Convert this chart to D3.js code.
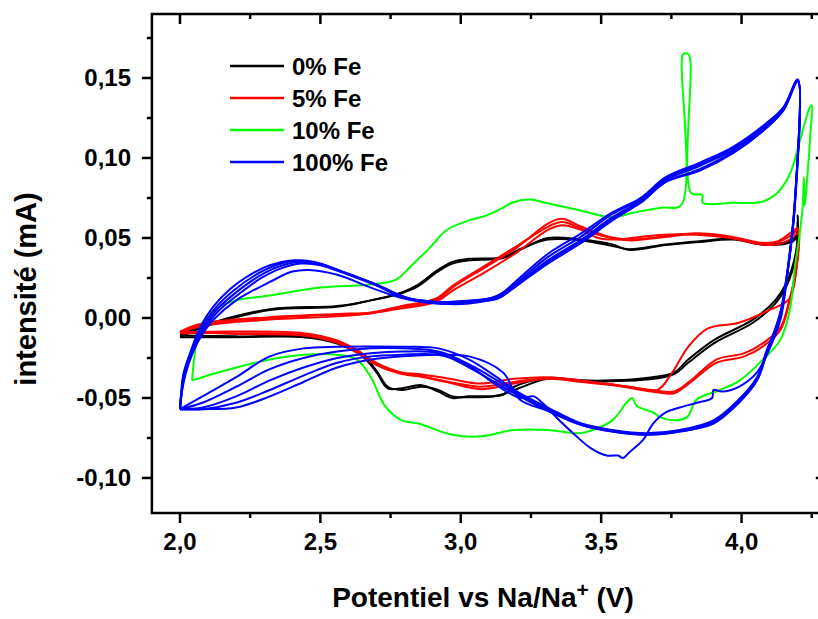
<!DOCTYPE html>
<html><head><meta charset="utf-8">
<script src="https://cdn.jsdelivr.net/npm/d3@7"></script>
<style>
html,body{margin:0;padding:0;background:#fff;}
svg text{font-family:"Liberation Sans",Arial,sans-serif;font-weight:bold;fill:#000;}
</style></head>
<body><svg id="c" width="818" height="619"></svg>
<script>
// ---- tick values / labels ----
const xTicks = [2.0, 2.5, 3.0, 3.5, 4.0];
const xTickLabels = ["2,0", "2,5", "3,0", "3,5", "4,0"];
const xMinor = [2.25, 2.75, 3.25, 3.75, 4.25];
const yTicks = [-0.10, -0.05, 0.00, 0.05, 0.10, 0.15];
const yTickLabels = ["-0,10", "-0,05", "0,00", "0,05", "0,10", "0,15"];
const yMinor = [-0.075, -0.025, 0.025, 0.075, 0.125, 0.175];
const legendLabels = ["0% Fe", "5% Fe", "10% Fe", "100% Fe"];
const seriesColors = ["#000000", "#ff0000", "#00ff00", "#0000ff"];

// ---- 0% Fe (black) cycles : [V, mA] ----
const fe0_c1 = [[2.0,-0.012],[2.08,-0.006],[2.32,0.005],[2.56,0.007],[2.68,0.011],[2.79,0.0155],[2.85,0.02],[2.91,0.028],[2.97,0.034],[3.03,0.036],[3.15,0.0375],[3.21,0.0425],[3.31,0.05],[3.43,0.049],[3.54,0.046],[3.6,0.0425],[3.73,0.0456],[3.85,0.0475],[3.97,0.049],[4.09,0.0456],[4.19,0.049],[4.2,0.064],
  [4.195,0.0425],[4.16,0.022],[4.12,0.011],[4.04,-0.001],[3.9,-0.014],[3.81,-0.026],[3.76,-0.034],[3.66,-0.0375],[3.54,-0.039],[3.43,-0.039],[3.31,-0.0375],[3.19,-0.043],[3.15,-0.048],[3.03,-0.049],[2.97,-0.05],[2.92,-0.046],[2.86,-0.042],[2.79,-0.044],[2.74,-0.044],[2.7,-0.034],[2.65,-0.024],[2.56,-0.016],[2.44,-0.012],[2.2,-0.012],[2.0,-0.012]];
const fe0_c2 = [[2.0,-0.011],[2.08,-0.005],[2.32,0.0055],[2.56,0.0075],[2.68,0.011],[2.79,0.016],[2.85,0.021],[2.91,0.029],[2.97,0.035],[3.03,0.037],[3.15,0.038],[3.21,0.043],[3.31,0.049],[3.43,0.0485],[3.54,0.045],[3.6,0.043],[3.73,0.046],[3.85,0.048],[3.97,0.0495],[4.09,0.046],[4.19,0.05],[4.2,0.06],
  [4.195,0.04],[4.16,0.02],[4.12,0.009],[4.04,-0.003],[3.9,-0.016],[3.81,-0.028],[3.76,-0.035],[3.66,-0.0385],[3.54,-0.0395],[3.43,-0.0395],[3.31,-0.038],[3.19,-0.045],[3.12,-0.049],[3.03,-0.0495],[2.97,-0.049],[2.92,-0.045],[2.86,-0.043],[2.79,-0.045],[2.74,-0.043],[2.7,-0.033],[2.65,-0.023],[2.56,-0.015],[2.44,-0.0115],[2.2,-0.0115],[2.0,-0.011]];

// ---- 5% Fe (red) cycles ----
const fe5_c1 = [[2.0,-0.009],[2.08,-0.004],[2.32,0.0],[2.56,0.002],[2.68,0.003],[2.79,0.007],[2.91,0.011],[2.97,0.019],[3.09,0.032],[3.2,0.044],[3.31,0.059],[3.36,0.062],[3.43,0.057],[3.49,0.053],[3.55,0.05],[3.61,0.049],[3.72,0.051],[3.84,0.053],[3.96,0.051],[4.07,0.047],[4.13,0.048],[4.18,0.054],[4.2,0.056],
  [4.195,0.03],[4.17,0.012],[4.1,0.005],[3.99,-0.003],[3.88,-0.0065],[3.81,-0.018],[3.75,-0.035],[3.7,-0.045],[3.6,-0.043],[3.43,-0.039],[3.31,-0.037],[3.19,-0.038],[3.07,-0.041],[2.96,-0.038],[2.85,-0.035],[2.79,-0.034],[2.7,-0.028],[2.63,-0.02],[2.56,-0.014],[2.44,-0.0095],[2.2,-0.0085],[2.0,-0.009]];
const fe5_c2 = [[2.0,-0.0095],[2.08,-0.005],[2.32,-0.001],[2.56,0.001],[2.68,0.003],[2.79,0.006],[2.91,0.010],[2.97,0.017],[3.09,0.029],[3.2,0.041],[3.31,0.055],[3.36,0.058],[3.43,0.055],[3.49,0.05],[3.55,0.049],[3.61,0.050],[3.72,0.052],[3.84,0.052],[3.96,0.050],[4.07,0.046],[4.13,0.046],[4.18,0.050],[4.2,0.053],
  [4.195,0.032],[4.17,0.011],[4.14,-0.0055],[4.09,-0.014],[4.01,-0.022],[3.91,-0.026],[3.82,-0.039],[3.76,-0.046],[3.68,-0.045],[3.56,-0.042],[3.43,-0.0395],[3.31,-0.0375],[3.19,-0.04],[3.07,-0.043],[2.96,-0.04],[2.85,-0.036],[2.79,-0.0345],[2.7,-0.029],[2.63,-0.021],[2.56,-0.015],[2.44,-0.0105],[2.2,-0.0095],[2.0,-0.0095]];
const fe5_c3 = [[2.0,-0.0085],[2.08,-0.0035],[2.32,0.0005],[2.56,0.0025],[2.68,0.0035],[2.79,0.0075],[2.91,0.012],[2.97,0.02],[3.09,0.033],[3.2,0.045],[3.31,0.057],[3.36,0.060],[3.43,0.056],[3.49,0.052],[3.55,0.0495],[3.61,0.0485],[3.72,0.0505],[3.84,0.0525],[3.96,0.0505],[4.07,0.0465],[4.13,0.0475],[4.18,0.052],[4.2,0.055],
  [4.195,0.031],[4.17,0.010],[4.14,-0.007],[4.09,-0.016],[4.01,-0.024],[3.91,-0.028],[3.82,-0.040],[3.76,-0.047],[3.68,-0.046],[3.56,-0.0425],[3.43,-0.040],[3.31,-0.038],[3.19,-0.041],[3.07,-0.0445],[2.96,-0.0405],[2.85,-0.0365],[2.79,-0.035],[2.7,-0.0295],[2.63,-0.0215],[2.56,-0.0155],[2.44,-0.011],[2.2,-0.010],[2.0,-0.0085]];

// ---- 10% Fe (green) cycle ----
const fe10_c1 = [[2.043,-0.039],[2.06,-0.014],[2.08,-0.003],[2.14,0.007],[2.2,0.011],[2.32,0.014],[2.5,0.019],[2.68,0.021],[2.77,0.024],[2.82,0.032],[2.89,0.044],[2.95,0.055],[3.03,0.061],[3.09,0.064],[3.15,0.069],[3.19,0.0725],[3.25,0.074],[3.3,0.072],[3.42,0.0675],[3.54,0.063],[3.62,0.066],[3.72,0.069],[3.785,0.0705],
  [3.787,0.16],[3.792,0.165],[3.81,0.165],[3.818,0.16],[3.821,0.078],[3.86,0.077],[3.862,0.072],[3.97,0.072],[4.07,0.0725],[4.126,0.078],[4.172,0.09],[4.208,0.111],[4.244,0.132],[4.25,0.133],
  [4.245,0.115],[4.235,0.09],[4.225,0.07],[4.222,0.088],[4.218,0.07],[4.205,0.05],[4.19,0.032],[4.172,0.005],[4.137,-0.014],[4.076,-0.026],[3.994,-0.039],[3.923,-0.045],[3.84,-0.051],[3.806,-0.062],[3.756,-0.064],[3.71,-0.062],[3.685,-0.059],[3.627,-0.055],[3.61,-0.05],[3.59,-0.053],[3.54,-0.064],[3.47,-0.07],[3.425,-0.072],[3.31,-0.07],[3.19,-0.07],[3.07,-0.074],[2.97,-0.073],[2.85,-0.066],[2.79,-0.064],[2.73,-0.055],[2.68,-0.037],[2.63,-0.026],[2.56,-0.023],[2.44,-0.023],[2.32,-0.026],[2.2,-0.031],[2.08,-0.037],[2.043,-0.039]];

// ---- 100% Fe (blue) cycles ----
const fe100_c1 = [[2.0,-0.057],[2.005,-0.045],[2.012,-0.035],[2.036,-0.022],[2.071,-0.006],[2.118,0.007],[2.178,0.018],[2.26,0.028],[2.32,0.033],[2.40,0.036],[2.46,0.035],[2.56,0.030],[2.68,0.022],[2.79,0.013],[2.92,0.009],[3.03,0.009],[3.13,0.013],[3.19,0.022],[3.31,0.040],[3.43,0.053],[3.54,0.066],[3.64,0.075],[3.73,0.088],[3.85,0.097],[3.97,0.107],[4.09,0.122],[4.15,0.132],[4.2,0.149],
  [4.19,0.074],[4.165,0.032],[4.14,0.005],[4.115,-0.009],[4.09,-0.020],[4.055,-0.037],[3.99,-0.051],[3.9,-0.064],[3.78,-0.070],[3.66,-0.072],[3.54,-0.070],[3.43,-0.066],[3.31,-0.056],[3.21,-0.047],[3.12,-0.036],[3.03,-0.026],[2.92,-0.019],[2.79,-0.018],[2.56,-0.018],[2.44,-0.019],[2.32,-0.024],[2.2,-0.037],[2.08,-0.049],[2.0,-0.057]];
const fe100_c2 = [[2.0,-0.057],[2.006,-0.045],[2.014,-0.035],[2.038,-0.022],[2.075,-0.007],[2.125,0.006],[2.19,0.017],[2.27,0.027],[2.34,0.033],[2.42,0.036],[2.48,0.035],[2.58,0.029],[2.70,0.021],[2.80,0.013],[2.92,0.010],[3.03,0.010],[3.13,0.014],[3.19,0.021],[3.31,0.038],[3.43,0.051],[3.54,0.065],[3.64,0.074],[3.73,0.087],[3.85,0.096],[3.97,0.106],[4.09,0.121],[4.15,0.131],[4.2,0.149],
  [4.19,0.073],[4.165,0.031],[4.14,0.004],[4.115,-0.010],[4.09,-0.021],[4.055,-0.038],[3.99,-0.052],[3.9,-0.065],[3.78,-0.0705],[3.66,-0.0725],[3.54,-0.0705],[3.43,-0.0665],[3.31,-0.057],[3.21,-0.048],[3.12,-0.038],[3.03,-0.029],[2.92,-0.021],[2.79,-0.019],[2.68,-0.019],[2.56,-0.021],[2.44,-0.025],[2.32,-0.032],[2.2,-0.043],[2.08,-0.053],[2.0,-0.057]];
const fe100_c3 = [[2.0,-0.057],[2.007,-0.045],[2.016,-0.035],[2.04,-0.022],[2.078,-0.008],[2.13,0.005],[2.2,0.016],[2.28,0.026],[2.35,0.032],[2.42,0.035],[2.49,0.034],[2.59,0.028],[2.71,0.020],[2.81,0.0125],[2.92,0.0095],[3.03,0.0105],[3.13,0.0135],[3.19,0.020],[3.31,0.036],[3.43,0.049],[3.54,0.063],[3.64,0.073],[3.73,0.086],[3.85,0.095],[3.97,0.105],[4.09,0.120],[4.15,0.131],[4.2,0.1485],
  [4.19,0.072],[4.165,0.030],[4.14,0.003],[4.115,-0.011],[4.09,-0.022],[4.055,-0.039],[3.99,-0.053],[3.9,-0.0655],[3.78,-0.071],[3.66,-0.073],[3.54,-0.071],[3.43,-0.067],[3.31,-0.058],[3.21,-0.049],[3.12,-0.040],[3.03,-0.031],[2.92,-0.022],[2.79,-0.021],[2.68,-0.022],[2.56,-0.025],[2.44,-0.031],[2.32,-0.039],[2.2,-0.049],[2.08,-0.056],[2.0,-0.057]];
const fe100_c4 = [[2.0,-0.057],[2.007,-0.045],[2.018,-0.035],[2.042,-0.022],[2.08,-0.009],[2.135,0.004],[2.21,0.015],[2.29,0.025],[2.36,0.031],[2.43,0.034],[2.50,0.033],[2.60,0.027],[2.72,0.019],[2.82,0.012],[2.92,0.010],[3.03,0.011],[3.13,0.013],[3.19,0.019],[3.31,0.035],[3.43,0.048],[3.54,0.062],[3.64,0.072],[3.73,0.085],[3.85,0.092],[3.97,0.103],[4.09,0.119],[4.15,0.130],[4.2,0.148],
  [4.19,0.07],[4.165,0.03],[4.14,0.0],[4.11,-0.015],[4.055,-0.034],[3.99,-0.043],[3.93,-0.046],[3.9,-0.045],[3.895,-0.05],[3.84,-0.053],[3.78,-0.056],[3.73,-0.059],[3.685,-0.066],[3.65,-0.076],[3.6,-0.084],[3.578,-0.0875],[3.56,-0.086],[3.52,-0.086],[3.46,-0.081],[3.4,-0.072],[3.34,-0.062],[3.29,-0.053],[3.26,-0.049],[3.21,-0.050],[3.12,-0.041],[3.03,-0.030],[2.92,-0.023],[2.79,-0.023],[2.68,-0.024],[2.56,-0.028],[2.44,-0.036],[2.32,-0.045],[2.2,-0.053],[2.08,-0.057],[2.0,-0.057]];
const fe100_c5 = [[2.0,-0.057],[2.008,-0.045],[2.02,-0.035],[2.045,-0.022],[2.08,-0.010],[2.12,-0.001],[2.2,0.011],[2.32,0.0225],[2.40,0.029],[2.46,0.030],[2.56,0.027],[2.68,0.019],[2.79,0.0125],[2.92,0.009],[3.03,0.010],[3.13,0.012],[3.19,0.019],[3.31,0.034],[3.43,0.047],[3.54,0.061],[3.64,0.072],[3.73,0.085],[3.85,0.093],[3.97,0.104],[4.09,0.119],[4.15,0.130],[4.2,0.148],
  [4.19,0.072],[4.165,0.030],[4.14,0.003],[4.115,-0.011],[4.09,-0.022],[4.055,-0.039],[3.99,-0.053],[3.9,-0.066],[3.78,-0.071],[3.66,-0.073],[3.54,-0.071],[3.43,-0.067],[3.31,-0.058],[3.21,-0.051],[3.15,-0.034],[3.03,-0.024],[2.92,-0.023],[2.79,-0.024],[2.68,-0.026],[2.56,-0.031],[2.44,-0.040],[2.32,-0.049],[2.2,-0.056],[2.08,-0.057],[2.0,-0.057]];

const seriesCycles = [
  [fe0_c1, fe0_c2],
  [fe5_c1, fe5_c2, fe5_c3],
  [fe10_c1],
  [fe100_c1, fe100_c2, fe100_c3, fe100_c4, fe100_c5]
];

// ---- drawing ----
const svg = d3.select("#c");
const x = d3.scaleLinear().domain([1.9, 4.3]).range([151.9, 825.8]);
const y = d3.scaleLinear().domain([-0.1219, 0.19]).range([513, 14]);
const X0 = x.range()[0], X1 = x.range()[1], Y0 = y.range()[0], Y1 = y.range()[1];

const line = d3.line().x(d => x(d[0])).y(d => y(d[1])).curve(d3.curveCatmullRom.alpha(0.5));
const plot = svg.append("g");
seriesCycles.forEach((cycles, si) => {
  cycles.forEach(c => {
    plot.append("path").attr("d", line(c)).attr("fill", "none")
      .attr("stroke", seriesColors[si]).attr("stroke-width", 2)
      .attr("stroke-linejoin", "round");
  });
});

// frame
svg.append("rect").attr("x", X0).attr("y", Y1).attr("width", X1 - X0).attr("height", Y0 - Y1)
  .attr("fill", "none").attr("stroke", "#000").attr("stroke-width", 2.5);

const tickG = svg.append("g").attr("stroke", "#000").attr("stroke-width", 2.5);
const MAJ = 10, MIN = 5;
xTicks.forEach(v => {
  tickG.append("line").attr("x1", x(v)).attr("x2", x(v)).attr("y1", Y0).attr("y2", Y0 + MAJ);
  tickG.append("line").attr("x1", x(v)).attr("x2", x(v)).attr("y1", Y1).attr("y2", Y1 + MAJ);
});
xMinor.forEach(v => {
  tickG.append("line").attr("x1", x(v)).attr("x2", x(v)).attr("y1", Y0).attr("y2", Y0 + MIN);
  tickG.append("line").attr("x1", x(v)).attr("x2", x(v)).attr("y1", Y1).attr("y2", Y1 + MIN);
});
yTicks.forEach(v => {
  tickG.append("line").attr("x1", X0 - MAJ).attr("x2", X0).attr("y1", y(v)).attr("y2", y(v));
  tickG.append("line").attr("x1", X1 - MAJ).attr("x2", X1).attr("y1", y(v)).attr("y2", y(v));
});
yMinor.forEach(v => {
  tickG.append("line").attr("x1", X0 - MIN).attr("x2", X0).attr("y1", y(v)).attr("y2", y(v));
  tickG.append("line").attr("x1", X1 - MIN).attr("x2", X1).attr("y1", y(v)).attr("y2", y(v));
});

// tick labels
xTicks.forEach((v, i) => {
  svg.append("text").attr("x", x(v)).attr("y", 550).attr("text-anchor", "middle")
    .attr("font-size", 24).text(xTickLabels[i]);
});
yTicks.forEach((v, i) => {
  svg.append("text").attr("x", 131).attr("y", y(v) + 8.5).attr("text-anchor", "end")
    .attr("font-size", 24).text(yTickLabels[i]);
});

// axis titles
const xt = svg.append("text").attr("x", 483).attr("y", 607).attr("text-anchor", "middle").attr("font-size", 28);
xt.append("tspan").text("Potentiel vs Na/Na");
xt.append("tspan").attr("font-size", 21).attr("dy", -10).text("+");
xt.append("tspan").attr("dy", 10).text(" (V)");
svg.append("text").attr("transform", "translate(36,289) rotate(-90)").attr("text-anchor", "middle")
  .attr("font-size", 29).text("intensité (mA)");

// legend
legendLabels.forEach((lab, i) => {
  const ly = 66 + i * 32;
  svg.append("line").attr("x1", 230).attr("x2", 284).attr("y1", ly).attr("y2", ly)
    .attr("stroke", seriesColors[i]).attr("stroke-width", 2.5);
  svg.append("text").attr("x", 292).attr("y", ly + 8.5).attr("font-size", 24).text(lab);
});
</script></body></html>
